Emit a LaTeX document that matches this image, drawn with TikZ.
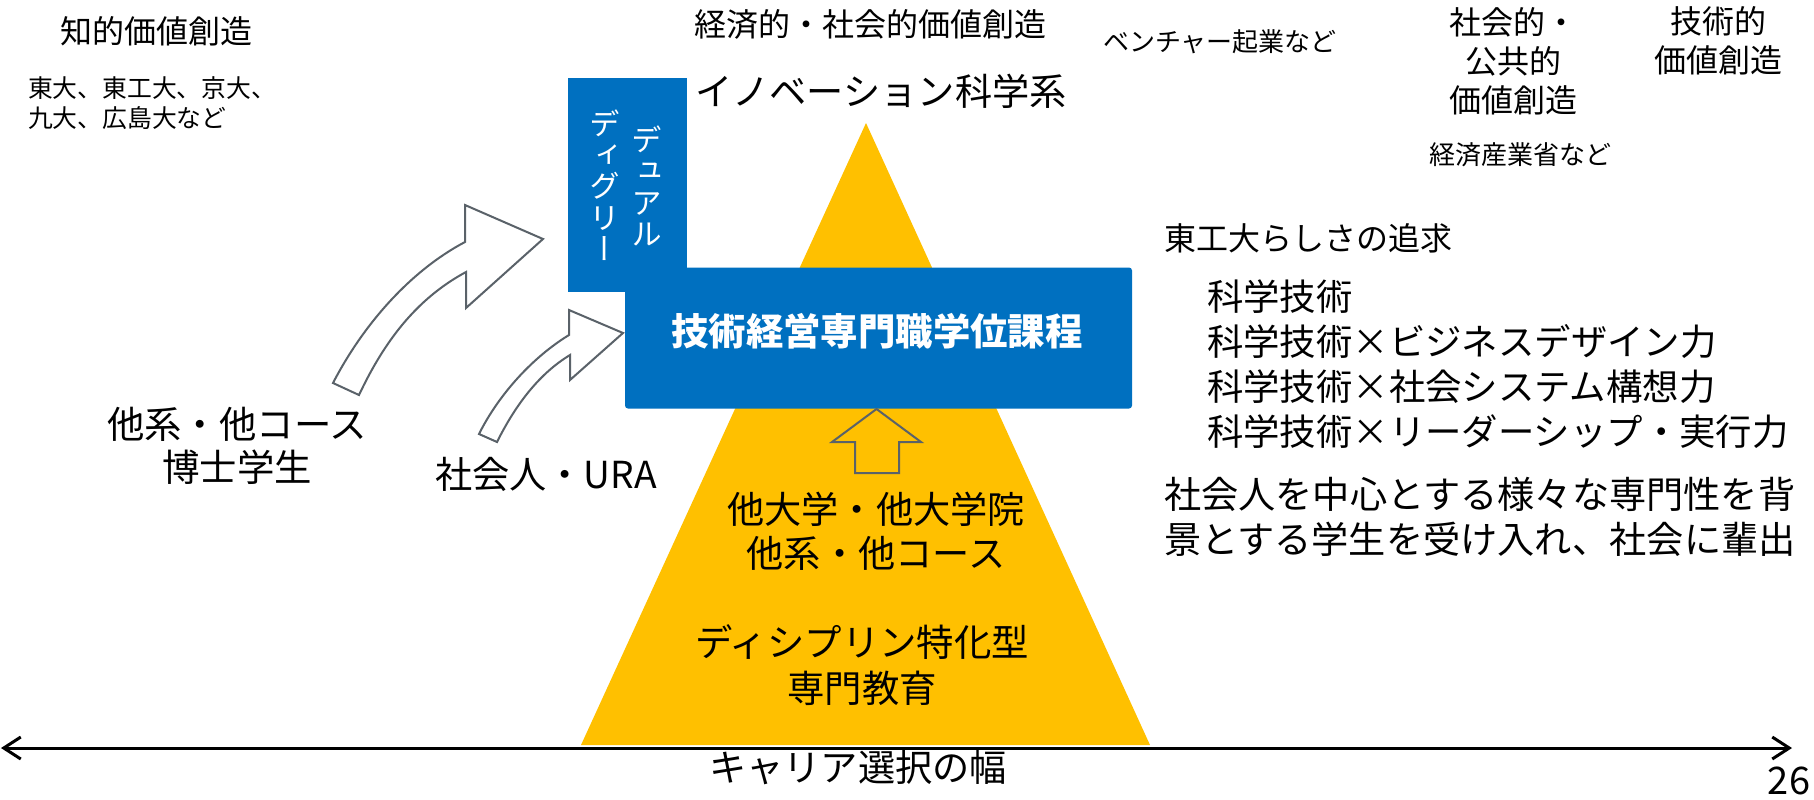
\documentclass[tikz,border=0pt]{standalone}
\usepackage{fontspec}
\setmainfont{Noto Sans CJK JP}
\newfontfamily\vjp{Noto Sans CJK JP}[RawFeature=+vert]
\usetikzlibrary{arrows.meta}
\definecolor{tblue}{RGB}{0,112,192}
\definecolor{tyellow}{RGB}{255,192,0}
\definecolor{agray}{RGB}{90,98,105}
\newcommand\fsz[2]{\fontsize{#1}{#2}\selectfont}
\begin{document}
\begin{tikzpicture}[x=0.5pt, y=-0.5pt,
  every node/.style={inner sep=0pt, outer sep=0pt},
  tsmall/.style={font=\fsz{12.4}{15}, align=left},
  tsmid/.style={font=\fsz{13}{16}, align=center},
  tmid/.style={font=\fsz{16}{19.5}, align=center},
  tbig/.style={font=\fsz{18.6}{22}, align=center},
  tlist/.style={font=\fsz{18.2}{22.5}, align=left},
  tvert/.style={font=\vjp\fsz{15.3}{15.6}, align=center, text=white},
  blockarrow/.style={draw=agray, line width=1pt, line join=miter},
  axis/.style={line width=1.5pt, {Straight Barb[length=8.5pt,width=11pt]}-{Straight Barb[length=8.5pt,width=11pt]}}
]
\useasboundingbox (0,0) rectangle (1814,799);
\fill[white] (0,0) rectangle (1814,799);

% pyramid
\fill[tyellow] (866,123) -- (1150,745) -- (581,745) -- cycle;

% blue boxes
\node (dual) [fill=tblue, minimum width=59.5pt, minimum height=107pt] at (627.5,185) {};
\node (mgmt) [fill=tblue, rounded corners=1.5pt, minimum width=253.5pt, minimum height=70.5pt] at (878.5,338) {};
\node (mgmttxt) [font=\bfseries\fsz{18.7}{22}, text=white] at (877,331) {技術経営専門職学位課程};
\node (dual1) [tvert] at (647,186) {デ\\ュ\\ア\\ル};
\node (dual2) [tvert] at (605,185) {デ\\ィ\\グ\\リ\\ー};

% up arrow into the programme box
\draw[blockarrow] (876.5,409) -- (921,442) -- (899,442) -- (899,473) -- (855,473) -- (855,442) -- (832,442) -- cycle;

% curved arrows
\draw[blockarrow, fill=white] (333,383) .. controls (363,325) and (410,271) .. (465,242) -- (465,205) -- (543,239) -- (466,308) -- (466,272) .. controls (416,299) and (384,342) .. (359,395) -- cycle;
\draw[blockarrow, fill=white] (479,434) .. controls (499,394) and (533,357) .. (569,335) -- (569,310) -- (623,333) -- (570,380) -- (570,355) .. controls (537,375) and (514,408) .. (497,442) -- cycle;

% axis
\coordinate (axL) at (1,748);
\coordinate (axR) at (1792,748);
\draw[axis] (axL) -- (axR);

% texts
\node (chiteki) [tmid] at (156,31) {知的価値創造};
\node (univs) [tsmall, anchor=west] at (28,103) {東大、東工大、京大、\\九大、広島大など};
\node (keizai) [tmid] at (870,24) {経済的・社会的価値創造};
\node (innov) [tbig] at (881,91) {イノベーション科学系};
\node (venture) [tsmid] at (1220,42) {ベンチャー起業など};
\node (shakai) [tmid] at (1513,61) {社会的・\\公共的\\価値創造};
\node (gijutsu) [tmid] at (1718,41) {技術的\\価値創造};
\node (meti) [tsmid] at (1520,155) {経済産業省など};
\node (tokodai) [tmid, anchor=west] at (1164,238) {東工大らしさの追求};
\node (list) [tlist, anchor=west] at (1207,364) {科学技術\\科学技術×ビジネスデザイン力\\科学技術×社会システム構想力\\科学技術×リーダーシップ・実行力};
\node (accept) [font=\fsz{18.6}{22.5}, align=left, anchor=west] at (1164,517) {社会人を中心とする様々な専門性を背\\景とする学生を受け入れ、社会に輩出};
\node (hakase) [font=\fsz{18.7}{21.5}, align=center] at (237,446) {他系・他コース\\博士学生};
\node (ura) [tbig] at (546,474) {社会人・URA};
\node (tadai) [tbig] at (876,531) {他大学・他大学院\\他系・他コース};
\node (disc) [font=\fsz{18.7}{23}, align=center] at (862,665) {ディシプリン特化型\\専門教育};
\node (career) [tbig] at (858,768) {キャリア選択の幅};
\node (page) [font=\fsz{19}{22}] at (1789,781) {26};
\end{tikzpicture}
\end{document}
